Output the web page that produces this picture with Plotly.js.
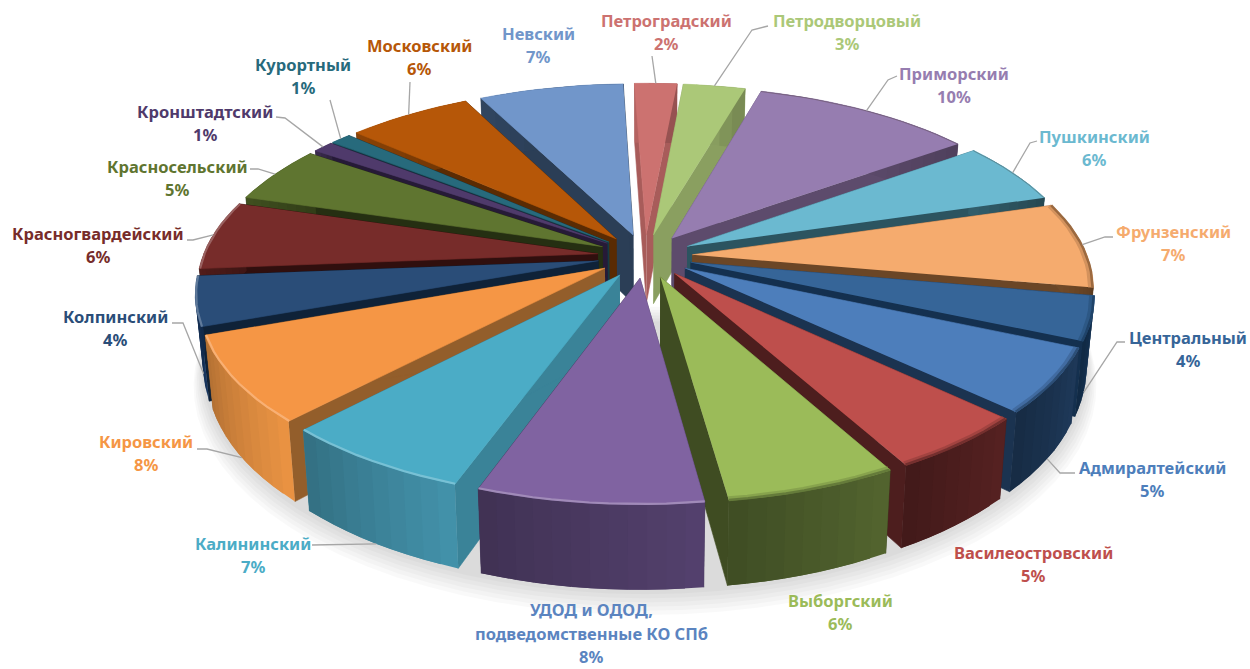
<!DOCTYPE html>
<html><head><meta charset="utf-8">
<script src="https://cdn.plot.ly/plotly-3.0.1.min.js"></script>
<style>html,body{margin:0;padding:0;background:#fff}#c{width:1250px;height:669px}</style>
</head><body><div id="c"></div>
<script>
// Data, clockwise from the top
const districts = ["Петроградский","Петродворцовый","Приморский","Пушкинский","Фрунзенский","Центральный","Адмиралтейский","Василеостровский","Выборгский","УДОД и ОДОД,<br>подведомственные КО СПб","Калининский","Кировский","Колпинский","Красногвардейский","Красносельский","Кронштадтский","Курортный","Московский","Невский"];
const shares = [2.03,2.97,10.6,5.37,7.4,3.76,5.5,4.89,5.86,7.67,6.57,7.42,4.24,5.94,4.95,0.99,0.99,5.94,6.93];
const percentLabels = [2,3,10,6,7,4,5,5,6,8,7,8,4,6,5,1,1,6,7];
// Colours
const topColors = ["#CC7270","#ABC878","#967DB0","#6BB9D0","#F5AB6E","#366598","#4D7EBB","#BE4F4C","#9BBB59","#8063A1","#4BACC6","#F59645","#2A4D78","#772C2A","#5F7530","#4F3A6B","#276A7C","#B65708","#7196CA"];
const cutColors = ["#A85C5A","#8A9F60","#5D4B6C","#2C5460","#6B4626","#14304F","#1B3350","#4D1E1E","#3F4C22","#45365A","#3A8398","#935E2B","#0F2238","#300F0E","#252F12","#261A37","#143A44","#5A2B03","#2B3E56"];
const wallColors = ["#A85C5A","#8A9F60","#5D4B6C","#2C5460","#6B4626","#14304F","#1B3350","#4D1E1E","#4A5A2A","#4B3A62","#3C8399","#D2843C","#153055","#4A1A18","#3A481C","#362848","#1A4D5B","#7D3C05","#2B3E56"];
const labelColors = ["#CC7270","#ABC878","#967DB0","#6BB9D0","#F5AB6E","#366598","#4D7EBB","#BE4F4C","#9BBB59","#5B84C0","#4BACC6","#F59645","#2A4D78","#772C2A","#5F7530","#4F3A6B","#276A7C","#B65708","#7196CA"];
// Label layout: centre x, centre y of the block
const labelCentres = [[666,32],[847,32],[954,85],[1094,148],[1173,243],[1188,349],[1152,479],[1033,564],[840,612],[591,633],[253,555],[146,453],[115,328],[98,245],[177,178],[205,123],[303,76],[419,57],[538,45]];
// Leader line bends near the labels (null = no leader)
const leaderBends = [[[652,56]],[[752,30],[768,26]],[[888,80],[897,76]],[[1030,143],[1037,141]],[[1105,237],[1113,237]],[[1117,342],[1125,342]],[[1060,473],[1075,473]],null,null,null,[[320,545],[312,545]],[[207,449],[197,449]],[[183,323],[172,323]],[[193,240],[187,240]],[[258,169],[250,169]],[[285,118],[276,117]],[[330,100]],[[410,82]],null];

// Projection
const cx=645, cy=256, b=395, a=182, p=0.161, H=70, explode=0.12, startDeg=-2, bottomShrink=0.982, lineStep=23.5;
function proj(X,Y,low){const f=1/(1-p*Y);return [cx+b*X*f*(low?bottomShrink:1), cy+a*Y*f+(low?H*f:0)];}
function hex(c){return [1,3,5].map(i=>parseInt(c.substr(i,2),16));}
function mix(c1,c2,t){const A=hex(c1),B=hex(c2);return "rgb("+A.map((v,i)=>Math.round(v+(B[i]-v)*t)).join(",")+")";}
function scale(c,m){return "rgb("+hex(c).map(v=>Math.min(255,Math.round(v*m))).join(",")+")";}

const traces=[];
function poly(pts,color,extra){traces.push(Object.assign({type:"scatter",mode:"lines",x:pts.map(q=>q[0]),y:pts.map(q=>q[1]),fill:"toself",fillcolor:color,line:{color:color,width:0.6},hoverinfo:"skip",showlegend:false},extra||{}));}
function stroke(pts,color,w,op){traces.push({type:"scatter",mode:"lines",x:pts.map(q=>q[0]),y:pts.map(q=>q[1]),line:{color:color,width:w,shape:"linear"},opacity:op===undefined?1:op,hoverinfo:"skip",showlegend:false});}

// Soft shadow under the near side of the pie
for(let k=6;k>=1;k--){
  const r=1.12+k*0.004, pts=[];
  for(let d=84;d<=276;d+=4){const t=d*Math.PI/180;const q=proj(r*Math.sin(t),-r*Math.cos(t),true);pts.push([q[0],q[1]+k*3]);}
  poly(pts,"rgba(0,0,0,0.022)",{line:{width:0}});
}

const total=shares.reduce((s,v)=>s+v,0);
let acc=startDeg;
const slices=shares.map((v,i)=>{const s=acc,e=acc+v/total*360;acc=e;return {i,s,e,m:(s+e)/2};});
const rad=d=>d*Math.PI/180;
function pt(sl,d,r,low){const m=rad(sl.m),t=rad(d);const X=explode*Math.sin(m)+r*Math.sin(t),Y=-explode*Math.cos(m)-r*Math.cos(t);return proj(X,Y,low);}

slices.slice().sort((A,B)=>Math.cos(rad(B.m))-Math.cos(rad(A.m))).forEach(sl=>{
  const i=sl.i, n=Math.max(3,Math.ceil((sl.e-sl.s)/2.5));
  const nm=districts[i].replace("<br>"," ");
  const arc=[];for(let k=0;k<=n;k++)arc.push(sl.s+(sl.e-sl.s)*k/n);
  const tipT=pt(sl,0,0,false), tipB=pt(sl,0,0,true);
  // cut faces
  [sl.s,sl.e].forEach(d=>poly([tipT,pt(sl,d,1,false),pt(sl,d,1,true),tipB],cutColors[i],{name:nm}));
  // outer wall, shaded strip by strip; each strip runs under the next so no seams show
  for(let k=0;k<n;k++){
    const shade=1.12-0.27*(k+0.5)/n;
    const end=k<n-1?arc[k+2]:arc[k+1], st=arc[k];
    const steps=k<n-1?[st,arc[k+1],end]:[st,end];
    const upper=steps.map(d=>pt(sl,d,1,false)), lower=steps.slice().reverse().map(d=>pt(sl,d,1,true));
    poly(upper.concat(lower),scale(wallColors[i],shade),{line:{width:0}});
  }
  // top face
  poly([tipT].concat(arc.map(d=>pt(sl,d,1,false))),topColors[i],{name:nm});
  // rim bevel
  const rim=arc.map(d=>pt(sl,d,0.998,false));
  const near=Math.cos(rad(sl.m))<0.2;
  if(near){
    if(Math.sin(rad(sl.m))<0.15){stroke(rim,mix(topColors[i],"#FFFFFF",0.28),2.2,0.9);}
    else{stroke(arc.map(d=>pt(sl,d,0.992,false)),mix(topColors[i],wallColors[i],0.35),4,0.7);stroke(rim,mix(topColors[i],wallColors[i],0.7),2.5,0.9);}
  } else if(Math.sin(rad(sl.m))>0.5){
    stroke(rim,mix(topColors[i],"#3A2A1A",0.5),1,0.6);
  }
});

// Leaders
slices.forEach(sl=>{
  const i=sl.i; if(!leaderBends[i])return;
  const nearSide=Math.cos(rad(sl.m))<0;
  const start=pt(sl,sl.m,1,nearSide);
  stroke([start].concat(leaderBends[i]),"#A6A6A6",1.3);
});

// One annotation per text line, so the line spacing can follow the reference
const annotations=[];
districts.forEach((d,i)=>{
  const lines=d.split("<br>").concat([percentLabels[i]+"%"]);
  lines.forEach((t,k)=>annotations.push({xref:"x",yref:"y",x:labelCentres[i][0],y:labelCentres[i][1]+(k-(lines.length-1)/2)*lineStep,showarrow:false,align:"center",text:"<b>"+t+"</b>",font:{family:"Noto Sans, Open Sans, sans-serif",size:16.5,color:labelColors[i]}}));
});
Plotly.newPlot("c",traces,{width:1250,height:669,margin:{l:0,r:0,t:0,b:0},paper_bgcolor:"#fff",plot_bgcolor:"#fff",showlegend:false,
 xaxis:{range:[0,1250],visible:false,fixedrange:true},yaxis:{range:[669,0],visible:false,fixedrange:true},annotations},{displayModeBar:false,staticPlot:true});
</script></body></html>
